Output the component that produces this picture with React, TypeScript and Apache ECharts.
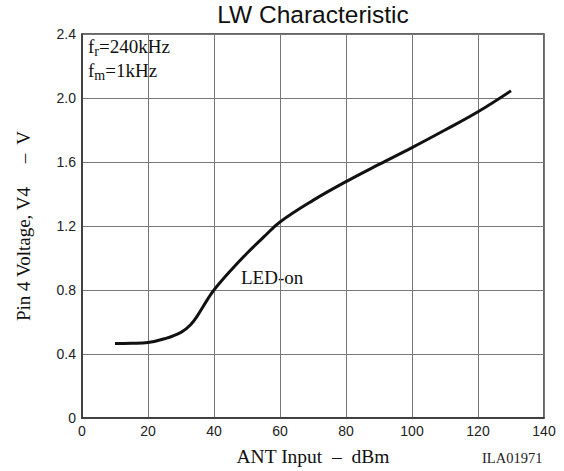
import React, { useEffect, useRef } from "react";
import * as echarts from "echarts";

const xValues = [10, 15, 20, 25, 30, 33, 35, 38, 40, 45, 50, 55, 60, 70, 80, 90, 100, 110, 120, 130];
const yValues = [0.465, 0.467, 0.472, 0.495, 0.535, 0.585, 0.64, 0.74, 0.8, 0.92, 1.03, 1.13, 1.225, 1.36, 1.477, 1.585, 1.69, 1.8, 1.914, 2.045];
const xTicks = [0, 20, 40, 60, 80, 100, 120, 140];
const yTicks = [0, 0.4, 0.8, 1.2, 1.6, 2.0, 2.4];

const serif = "'Liberation Serif', 'DejaVu Serif', serif";
const sans = "'Liberation Sans', Arial, sans-serif";

export default function App() {
  const ref = useRef<HTMLDivElement>(null);
  useEffect(() => {
    if (!ref.current) return;
    const chart = echarts.init(ref.current, null, { renderer: "svg" });
    const data = xValues.map((x, i) => [x, yValues[i]]);
    const rich = {
      a: { fontFamily: serif, fontSize: 19, fill: "#111", color: "#111" },
      s: { fontFamily: serif, fontSize: 14, fill: "#111", color: "#111", padding: [9, 0, 0, 0] },
    };
    chart.setOption({
      animation: false,
      backgroundColor: "#fff",
      title: {
        text: "LW Characteristic",
        left: 313,
        textAlign: "center",
        top: 2,
        padding: 0,
        textStyle: { fontFamily: sans, fontSize: 24.5, fontWeight: "normal", color: "#111" },
      },
      grid: { left: 82, right: 20, top: 34, bottom: 53 },
      xAxis: {
        type: "value",
        min: 0,
        max: 140,
        interval: 20,
        name: "ANT Input  –  dBm",
        nameLocation: "middle",
        nameGap: 28,
        nameTextStyle: { fontFamily: serif, fontSize: 19.5, color: "#111" },
        axisLine: { show: true, lineStyle: { color: "#333", width: 1.5 } },
        axisTick: { show: false },
        axisLabel: {
          fontFamily: sans,
          fontSize: 14,
          color: "#222",
          margin: 6,
          formatter: (v: number) => (xTicks.includes(v) ? String(v) : ""),
        },
        splitLine: { show: true, lineStyle: { color: "#777", width: 1 } },
      },
      yAxis: {
        type: "value",
        min: 0,
        max: 2.4,
        interval: 0.4,
        name: "Pin 4 Voltage, V4     –  V",
        nameLocation: "middle",
        nameGap: 49,
        nameTextStyle: { fontFamily: serif, fontSize: 19, color: "#111" },
        axisLine: { show: true, lineStyle: { color: "#333", width: 1.5 } },
        axisTick: { show: false },
        axisLabel: {
          fontFamily: sans,
          fontSize: 14,
          color: "#222",
          margin: 6,
          formatter: (v: number) => {
            const t = yTicks.find((k) => Math.abs(k - v) < 1e-6);
            if (t === undefined) return "";
            return t === 0 ? "0" : t.toFixed(1);
          },
        },
        splitLine: { show: true, lineStyle: { color: "#777", width: 1 } },
      },
      graphic: [
        {
          type: "rect",
          shape: { x: 82, y: 34, width: 462, height: 384 },
          style: { fill: "none", stroke: "#333", lineWidth: 1.5 },
          silent: true,
        },
        {
          type: "text",
          left: 88,
          top: 37,
          style: { text: "{a|f}{s|r}{a|=240kHz}", rich },
        },
        {
          type: "text",
          left: 88,
          top: 61,
          style: { text: "{a|f}{s|m}{a|=1kHz}", rich },
        },
        {
          type: "text",
          left: 241,
          top: 268,
          style: { text: "LED-on", fontFamily: serif, fontSize: 19, fill: "#111" },
        },
        {
          type: "text",
          left: 482,
          top: 450,
          style: { text: "ILA01971", fontFamily: serif, fontSize: 14.5, fill: "#222" },
        },
      ],
      series: [
        {
          type: "line",
          data,
          smooth: 0.4,
          showSymbol: false,
          lineStyle: { color: "#111", width: 3 },
        },
      ],
    });
    return () => chart.dispose();
  }, []);
  return <div ref={ref} style={{ width: 564, height: 471, position: "absolute", left: 0, top: 0 }} />;
}
